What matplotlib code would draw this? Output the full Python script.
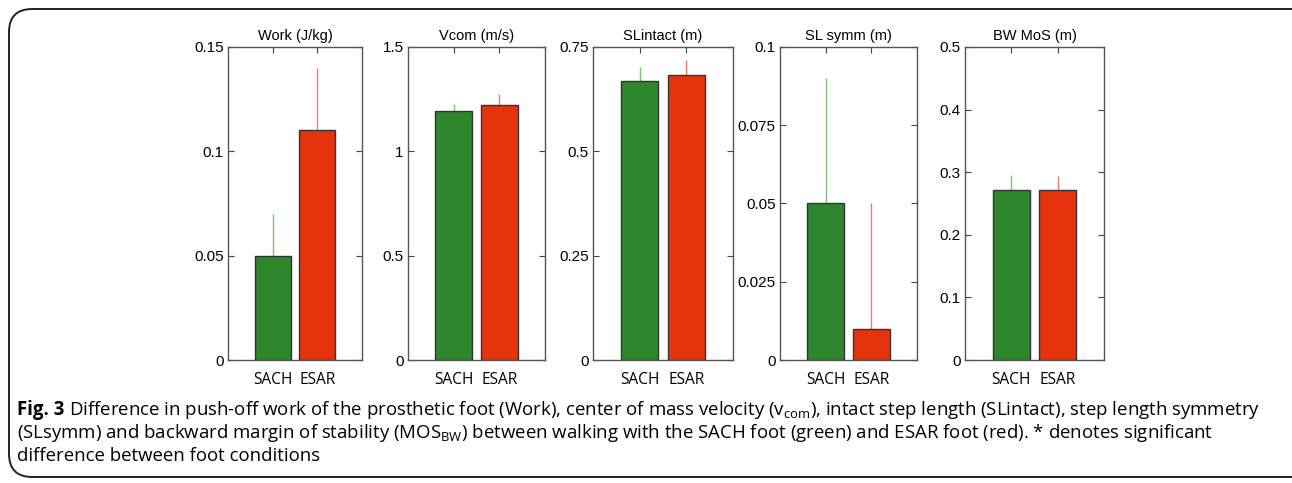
import matplotlib.pyplot as plt
from matplotlib.patches import FancyBboxPatch
from matplotlib.ticker import FuncFormatter

categories = ["SACH", "ESAR"]
titles = ["Work (J/kg)", "Vcom (m/s)", "SLintact (m)", "SL symm (m)", "BW MoS (m)"]

work_mean = [0.05, 0.11]
work_sd = [0.02, 0.03]
vcom_mean = [1.192, 1.221]
vcom_sd = [0.037, 0.052]
slintact_mean = [0.668, 0.682]
slintact_sd = [0.034, 0.036]
slsymm_mean = [0.05, 0.01]
slsymm_sd = [0.04, 0.04]
bwmos_mean = [0.272, 0.271]
bwmos_sd = [0.023, 0.023]

means = [work_mean, vcom_mean, slintact_mean, slsymm_mean, bwmos_mean]
sds = [work_sd, vcom_sd, slintact_sd, slsymm_sd, bwmos_sd]
ymax = [0.15, 1.5, 0.75, 0.1, 0.5]
yticks = [
    [0, 0.05, 0.1, 0.15],
    [0, 0.5, 1, 1.5],
    [0, 0.25, 0.5, 0.75],
    [0, 0.025, 0.05, 0.075, 0.1],
    [0, 0.1, 0.2, 0.3, 0.4, 0.5],
]

caption_lines = [
    r"Difference in push-off work of the prosthetic foot (Work), center of mass velocity (v$_{\mathrm{com}}$), "
    r"intact step length (SLintact), step length symmetry",
    r"(SLsymm) and backward margin of stability (MOS$_{\mathrm{BW}}$) between walking with the SACH foot (green) "
    r"and ESAR foot (red). * denotes significant",
    "difference between foot conditions",
]

bar_colors = ["#2e872d", "#e5330e"]
err_colors = ["#7cc27a", "#f27a66"]

W, H = 1292, 483
plt.rcParams["font.family"] = ["Liberation Sans", "DejaVu Sans"]
plt.rcParams["mathtext.fontset"] = "custom"
plt.rcParams["mathtext.rm"] = "Open Sans"
plt.rcParams["mathtext.bf"] = "Open Sans:bold"

fig = plt.figure(figsize=(W / 100, H / 100), dpi=100)

lefts = [228, 408, 593, 780, 965]
widths = [134, 137, 140, 137, 139]
bottom_px, top_px = 360, 47

fmt = FuncFormatter(lambda v, p: f"{v:g}")

for i in range(5):
    ax = fig.add_axes([lefts[i] / W, (H - bottom_px) / H,
                       widths[i] / W, (bottom_px - top_px) / H])
    x = [1, 2]
    ax.bar(x, means[i], width=0.8, color=bar_colors,
           edgecolor="#333333", linewidth=1.0, zorder=2)
    for j in range(2):
        ax.errorbar(x[j], means[i][j], yerr=[[0], [sds[i][j]]],
                    fmt="none", ecolor=err_colors[j], elinewidth=1.0,
                    capsize=0, zorder=1)
    ax.set_xlim(0, 3)
    ax.set_ylim(0, ymax[i])
    ax.set_xticks(x)
    ax.set_yticks(yticks[i])
    ax.yaxis.set_major_formatter(fmt)
    ax.tick_params(direction="in", length=4, width=0.8, color="#444444",
                   top=True, right=True)
    ax.tick_params(axis="x", pad=9, labelsize=11.2)
    ax.tick_params(axis="y", pad=3, labelsize=11)
    ax.set_xticklabels(categories, fontfamily="Open Sans", fontsize=11.2)
    for s in ax.spines.values():
        s.set_color("#555555")
        s.set_linewidth(1.0)
    ax.set_title(titles[i], fontsize=10.5, pad=5)

# caption frame
frame = FancyBboxPatch((9 / W, 6 / H), (W + 40) / W, (H - 15) / H,
                       boxstyle="round,pad=0,rounding_size=0.018",
                       transform=fig.transFigure, fill=False,
                       edgecolor="#222222", linewidth=1.4, mutation_aspect=W / H)
fig.patches.append(frame)

cap_font = dict(fontfamily="Open Sans", fontsize=13.4, va="center", ha="left")
fig_label = fig.text(17 / W, 1 - 410 / H, "Fig. 3", fontweight="bold", **cap_font)
renderer = fig.canvas.get_renderer()
bb = fig_label.get_window_extent(renderer)
fig.text((bb.x1 + 5) / W, 1 - 410 / H, caption_lines[0], **cap_font)
fig.text(17 / W, 1 - 433 / H, caption_lines[1], **cap_font)
fig.text(17 / W, 1 - 456 / H, caption_lines[2], **cap_font)

fig.savefig("out.png", dpi=100)
